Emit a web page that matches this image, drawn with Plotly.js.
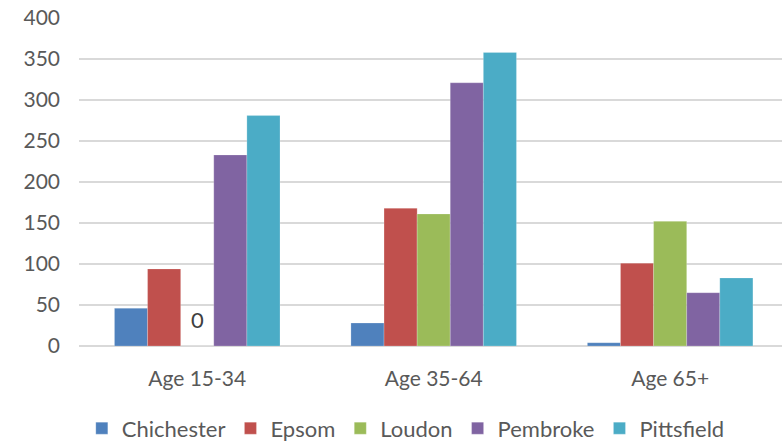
<!DOCTYPE html>
<html>
<head>
<meta charset="utf-8">
<script src="https://cdn.plot.ly/plotly-3.0.1.min.js"></script>
<style>
  html, body { margin: 0; padding: 0; background: #fff; }
  #chart { width: 782px; height: 442px; }
</style>
</head>
<body>
<div id="chart"></div>
<script>
// Population by age band for five towns
const ageGroups = ['Age 15-34', 'Age 35-64', 'Age 65+'];

const chichester = [46, 28, 4];
const epsom      = [94, 168, 101];
const loudon     = [0, 161, 152];
const pembroke   = [233, 321, 65];
const pittsfield = [281, 358, 83];

const townNames  = ['Chichester', 'Epsom', 'Loudon', 'Pembroke', 'Pittsfield'];
const townValues = [chichester, epsom, loudon, pembroke, pittsfield];
const townColors = ['#4F81BD', '#C0504D', '#9BBB59', '#8064A2', '#4BACC6'];

const textColor = '#595959';
const fontFamily = 'Lato, "Liberation Sans", sans-serif';

const traces = townNames.map((name, i) => ({
  type: 'bar',
  name: name,
  x: ageGroups,
  y: townValues[i],
  marker: { color: townColors[i], line: { color: 'rgba(255,255,255,0.35)', width: 0.6 } },
  hoverinfo: 'x+y+name'
}));

const layout = {
  width: 782,
  height: 442,
  margin: { l: 79, r: 0, t: 18, b: 96, autoexpand: false },
  paper_bgcolor: '#ffffff',
  plot_bgcolor: '#ffffff',
  barmode: 'group',
  bargap: 0.3,
  bargroupgap: 0,
  font: { family: fontFamily, size: 21, color: textColor },
  xaxis: {
    type: 'category',
    range: [-0.5, 2.473],
    showgrid: false,
    showline: false,
    ticks: '',
    ticklabelstandoff: 18,
    tickfont: { family: fontFamily, size: 21, color: textColor }
  },
  yaxis: {
    range: [0, 400],
    dtick: 50,
    showgrid: true,
    gridcolor: '#d9d9d9',
    gridwidth: 1.5,
    zeroline: true,
    zerolinecolor: '#d9d9d9',
    zerolinewidth: 1.5,
    showline: false,
    ticks: '',
    ticklabelstandoff: 18,
    tickfont: { family: fontFamily, size: 21, color: textColor }
  },
  showlegend: true,
  legend: {
    orientation: 'h',
    x: 0.004,
    xanchor: 'left',
    y: -0.187,
    yanchor: 'top',
    font: { family: fontFamily, size: 22, color: textColor },
    bgcolor: 'rgba(0,0,0,0)'
  },
  annotations: [{
    // value label for the zero-height Loudon bar in the first group
    x: ageGroups[0],
    y: loudon[0],
    xref: 'x',
    yref: 'y',
    text: String(loudon[0]),
    showarrow: false,
    yanchor: 'bottom',
    yshift: 11,
    font: { family: fontFamily, size: 22, color: '#404040' }
  }]
};

Plotly.newPlot('chart', traces, layout, { displayModeBar: false, staticPlot: true });
</script>
</body>
</html>
